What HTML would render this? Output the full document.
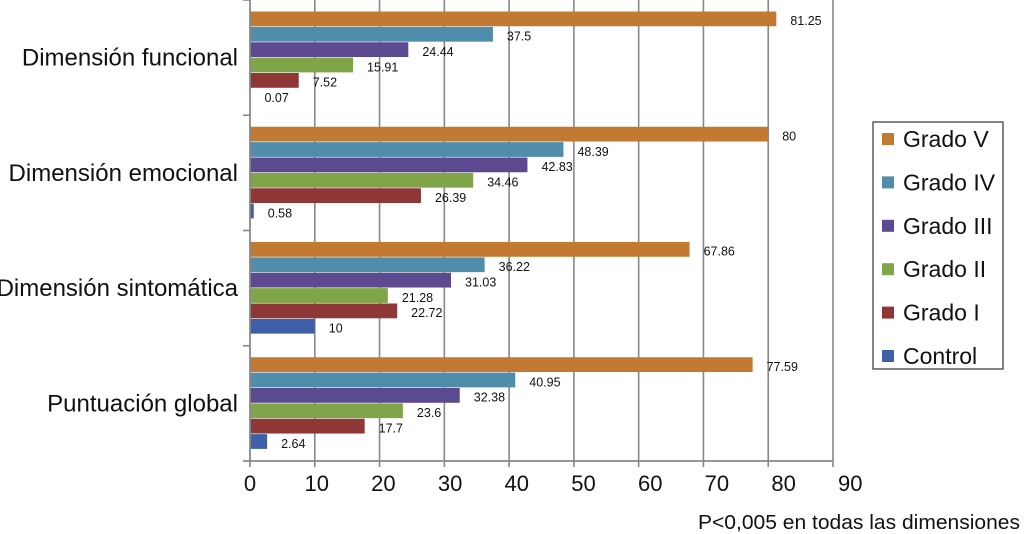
<!DOCTYPE html>
<html><head><meta charset="utf-8"><style>
body{margin:0;background:#fff;}
svg{display:block;font-family:"Liberation Sans",sans-serif;}
</style></head><body>
<svg id="chart" width="1024" height="534">
<g id="grid"></g><g id="bars"></g><g id="axes"></g>
<g>
<rect x="873" y="122" width="130" height="247" fill="#fff" stroke="#333" stroke-width="1.2"/>
<g id="legend"></g>
</g>
<text x="1020" y="529" text-anchor="end" font-size="20" textLength="322" lengthAdjust="spacingAndGlyphs" fill="#111">P&lt;0,005 en todas las dimensiones</text>
</svg>
<script>
const categories=["Dimensión funcional","Dimensión emocional","Dimensión sintomática","Puntuación global"];
const seriesNames=["Grado V","Grado IV","Grado III","Grado II","Grado I","Control"];
const gradoV=[81.25,80,67.86,77.59];
const gradoIV=[37.5,48.39,36.22,40.95];
const gradoIII=[24.44,42.83,31.03,32.38];
const gradoII=[15.91,34.46,21.28,23.6];
const gradoI=[7.52,26.39,22.72,17.7];
const control=[0.07,0.58,10,2.64];
const ticks=[0,10,20,30,40,50,60,70,80,90];
const series=[gradoV,gradoIV,gradoIII,gradoII,gradoI,control];
const colors=["#C27A32","#4F8DAB","#5B4A8F","#7FA548","#8F3636","#3F60A9"];
const NS="http://www.w3.org/2000/svg";
const x0=250,x90=833,yTop=0,yBot=461;
const xs=v=>x0+(x90-x0)*v/90;
const xl=v=>x0+6.67*v;
const groupH=(yBot-yTop)/categories.length;
const pad=11.5,barH=(groupH-2*pad)/seriesNames.length;
function mk(tag,attrs,parent){const e=document.createElementNS(NS,tag);for(const k in attrs)e.setAttribute(k,attrs[k]);parent.appendChild(e);return e;}
const grid=document.getElementById('grid'),bars=document.getElementById('bars'),axes=document.getElementById('axes'),legend=document.getElementById('legend');
ticks.forEach(t=>{
  if(t>0){const l=mk('line',{x1:xs(t),x2:xs(t),y1:yTop,y2:yBot,stroke:'#888','stroke-width':1.6},grid);
  
  }
  const tl=mk('line',{x1:xs(t),x2:xs(t),y1:yBot,y2:yBot+6,stroke:'#888','stroke-width':1.6},axes);
  
  
  const tx=mk('text',{x:xl(t),y:491,'text-anchor':'middle','font-size':22,fill:'#111'},axes);
  tx.textContent=t;
  
  
});
categories.forEach((c,i)=>{
  const gy=yTop+i*groupH;
  series.forEach((s,j)=>{
    const y=gy+pad+j*barH;
    const r=mk('rect',{x:x0,y:y,width:xs(s[i])-x0,height:barH-0.6,fill:colors[j]},bars);
    
    
    const t=mk('text',{x:xs(s[i])+14,y:y+barH/2+6,'font-size':12.5,fill:'#111'},bars);
    t.textContent=s[i];
    
    
  });
  const lab=mk('text',{x:238,y:gy+groupH/2+8,'text-anchor':'end','font-size':24,fill:'#111'},axes);
  lab.textContent=c;
  
  
  const tk=mk('line',{x1:243,x2:x0,y1:gy,y2:gy,stroke:'#888','stroke-width':1.6},axes);
  
  
});
const ya=mk('line',{x1:x0,x2:x0,y1:yTop,y2:yBot,stroke:'#888','stroke-width':1.8},axes);


const xa=mk('line',{x1:243,x2:x90,y1:yBot,y2:yBot,stroke:'#888','stroke-width':1.8},axes);


seriesNames.forEach((n,j)=>{
  const cy=139+j*43.4;
  const sq=mk('rect',{x:882,y:cy-6,width:12,height:12,fill:colors[j]},legend);
  
  
  const t=mk('text',{x:903,y:cy+8,'font-size':23,fill:'#111'},legend);
  t.textContent=n;
  
  
});
</script>
</body></html>
